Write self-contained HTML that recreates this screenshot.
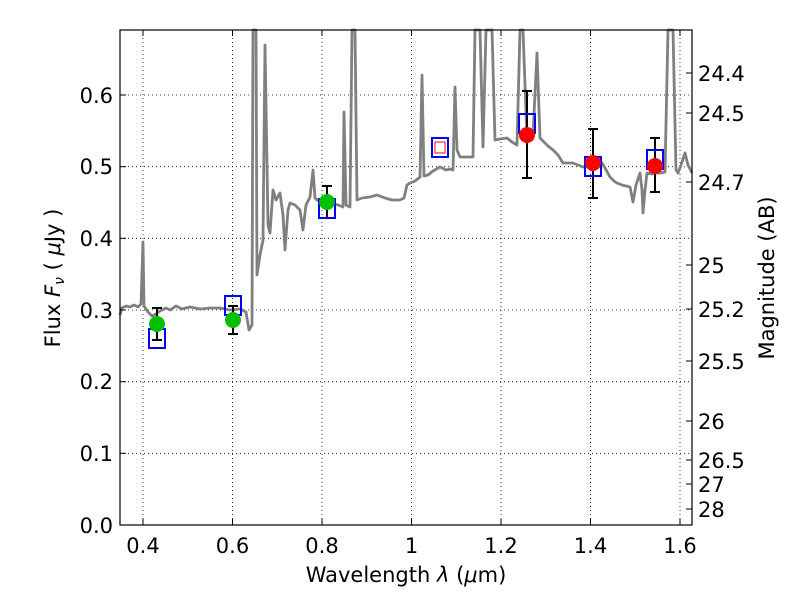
<!DOCTYPE html>
<html><head><style>body{margin:0;background:#fff}svg{display:block}text{font-family:"DejaVu Sans","Liberation Sans",sans-serif;fill:#000}</style></head><body>
<svg width="800" height="600" viewBox="0 0 800 600">
<rect width="800" height="600" fill="#fff"/>
<g stroke="#000" stroke-width="0.8" stroke-dasharray="1,3">
<line x1="143" y1="30" x2="143" y2="525"/><line x1="232.5" y1="30" x2="232.5" y2="525"/><line x1="322" y1="30" x2="322" y2="525"/><line x1="411.5" y1="30" x2="411.5" y2="525"/><line x1="501" y1="30" x2="501" y2="525"/><line x1="590.5" y1="30" x2="590.5" y2="525"/><line x1="680" y1="30" x2="680" y2="525"/>
<line x1="120" y1="453.3" x2="692" y2="453.3"/><line x1="120" y1="381.7" x2="692" y2="381.7"/><line x1="120" y1="310" x2="692" y2="310"/><line x1="120" y1="238.3" x2="692" y2="238.3"/><line x1="120" y1="166.7" x2="692" y2="166.7"/><line x1="120" y1="95" x2="692" y2="95"/>
</g>
<polyline fill="none" stroke="#808080" stroke-width="2.8" stroke-linejoin="round" points="120,315 122,308 126,306 130,307 134,305 138,307 141,304 143,242 144,306 148,312 152,316 156,314 160,311 166,308 170,310 176,306 182,309 190,307 200,309 210,308 220,308 230,310 240,309 246,312 249,330 252,325 253,30 256,30 257,275 260,255 263,240 265,45 268,225 270,233 273,190 276,200 280,193 283,215 285,250 288,210 290,203 295,205 300,210 303,230 306,205 310,197 313,170 315,198 317,200 322,202 330,203 338,205 343,207 344,112 346,205 350,207 352,30 355,30 357,200 362,198 370,197 377,195 385,198 392,200 400,200 404,198 407,185 410,183 415,181 420,177 422,75 424,176 428,175 433,171 440,167 446,170 450,169 453,170 455,87 457,150 460,157 466,157 473,157 475,30 480,30 483,147 486,30 492,30 495,140 500,139 507,138 512,142 517,145 520,30 523,30 527,140 533,135 537,53 540,138 542,140 548,146 553,150 558,155 563,163 568,163 573,163 578,165 583,167 590,165 600,160 605,168 610,177 614,181 617,183 622,185 626,186 630,187 633,202 636,185 640,173 642,190 643,213 645,190 647,173 652,174 656,173 660,173 665,172 668,30 673,30 676,170 678,173 681,165 685,153 688,165 692,173"/>
<g stroke="#000" stroke-width="2">
<line x1="157" y1="308" x2="157" y2="340"/><line x1="152" y1="308" x2="162" y2="308"/><line x1="152" y1="340" x2="162" y2="340"/>
<line x1="233" y1="306" x2="233" y2="334"/><line x1="228" y1="306" x2="238" y2="306"/><line x1="228" y1="334" x2="238" y2="334"/>
<line x1="327" y1="186" x2="327" y2="218"/><line x1="322" y1="186" x2="332" y2="186"/><line x1="322" y1="218" x2="332" y2="218"/>
<line x1="527" y1="91" x2="527" y2="178"/><line x1="522" y1="91" x2="532" y2="91"/><line x1="522" y1="178" x2="532" y2="178"/>
<line x1="593" y1="129" x2="593" y2="198"/><line x1="588" y1="129" x2="598" y2="129"/><line x1="588" y1="198" x2="598" y2="198"/>
<line x1="655" y1="138" x2="655" y2="192"/><line x1="650" y1="138" x2="660" y2="138"/><line x1="650" y1="192" x2="660" y2="192"/>
</g>
<g fill="none" stroke="#0000ff" stroke-width="2">
<rect x="149" y="329" width="16" height="19"/><rect x="225" y="296" width="16" height="19"/><rect x="319" y="199" width="16" height="19"/><rect x="432" y="138" width="16" height="19"/><rect x="519" y="114" width="16" height="19"/><rect x="585" y="157" width="16" height="19"/><rect x="647" y="150" width="16" height="19"/>
</g>
<rect x="435" y="142" width="10" height="11" fill="none" stroke="#ff0000" stroke-width="1"/>
<g fill="#00c000"><circle cx="157" cy="324" r="8"/><circle cx="233" cy="320" r="8"/><circle cx="327" cy="202" r="8"/></g>
<g fill="#ff0000"><circle cx="527" cy="135" r="8"/><circle cx="593" cy="163" r="8"/><circle cx="655" cy="166" r="8"/></g>
<rect x="120" y="30" width="572" height="495" fill="none" stroke="#000" stroke-width="1.2"/>
<g stroke="#000" stroke-width="1">
<line x1="143" y1="525" x2="143" y2="519"/><line x1="232.5" y1="525" x2="232.5" y2="519"/><line x1="322" y1="525" x2="322" y2="519"/><line x1="411.5" y1="525" x2="411.5" y2="519"/><line x1="501" y1="525" x2="501" y2="519"/><line x1="590.5" y1="525" x2="590.5" y2="519"/><line x1="680" y1="525" x2="680" y2="519"/>
<line x1="143" y1="30" x2="143" y2="36"/><line x1="232.5" y1="30" x2="232.5" y2="36"/><line x1="322" y1="30" x2="322" y2="36"/><line x1="411.5" y1="30" x2="411.5" y2="36"/><line x1="501" y1="30" x2="501" y2="36"/><line x1="590.5" y1="30" x2="590.5" y2="36"/><line x1="680" y1="30" x2="680" y2="36"/>
<line x1="120" y1="525" x2="126" y2="525"/><line x1="120" y1="453.3" x2="126" y2="453.3"/><line x1="120" y1="381.7" x2="126" y2="381.7"/><line x1="120" y1="310" x2="126" y2="310"/><line x1="120" y1="238.3" x2="126" y2="238.3"/><line x1="120" y1="166.7" x2="126" y2="166.7"/><line x1="120" y1="95" x2="126" y2="95"/>
<line x1="686" y1="73" x2="692" y2="73"/><line x1="686" y1="113" x2="692" y2="113"/><line x1="686" y1="182" x2="692" y2="182"/><line x1="686" y1="265" x2="692" y2="265"/><line x1="686" y1="309" x2="692" y2="309"/><line x1="686" y1="361" x2="692" y2="361"/><line x1="686" y1="421" x2="692" y2="421"/><line x1="686" y1="460" x2="692" y2="460"/><line x1="686" y1="484" x2="692" y2="484"/><line x1="686" y1="509" x2="692" y2="509"/>
</g>
<g font-size="21" text-anchor="middle">
<text x="143" y="553">0.4</text><text x="232.5" y="553">0.6</text><text x="322" y="553">0.8</text><text x="411.5" y="553">1</text><text x="501" y="553">1.2</text><text x="590.5" y="553">1.4</text><text x="680" y="553">1.6</text>
</g>
<g font-size="21" text-anchor="end">
<text x="113" y="533">0.0</text><text x="113" y="461">0.1</text><text x="113" y="389">0.2</text><text x="113" y="318">0.3</text><text x="113" y="246">0.4</text><text x="113" y="174">0.5</text><text x="113" y="103">0.6</text>
</g>
<g font-size="21">
<text x="698" y="81">24.4</text><text x="698" y="121">24.5</text><text x="698" y="190">24.7</text><text x="698" y="273">25</text><text x="698" y="317">25.2</text><text x="698" y="369">25.5</text><text x="698" y="429">26</text><text x="698" y="468">26.5</text><text x="698" y="492">27</text><text x="698" y="517">28</text>
</g>
<text x="406" y="582" font-size="21" text-anchor="middle">Wavelength  <tspan font-style="italic">λ</tspan> (<tspan font-style="italic">μ</tspan>m)</text>
<text transform="translate(60,278) rotate(-90)" font-size="21" text-anchor="middle">Flux  <tspan font-style="italic">F</tspan><tspan font-style="italic" font-size="14" dy="4">ν</tspan><tspan dy="-4">  ( </tspan><tspan font-style="italic">μ</tspan>Jy )</text>
<text transform="translate(774,278) rotate(-90)" font-size="21" text-anchor="middle">Magnitude (AB)</text>
</svg>
</body></html>
